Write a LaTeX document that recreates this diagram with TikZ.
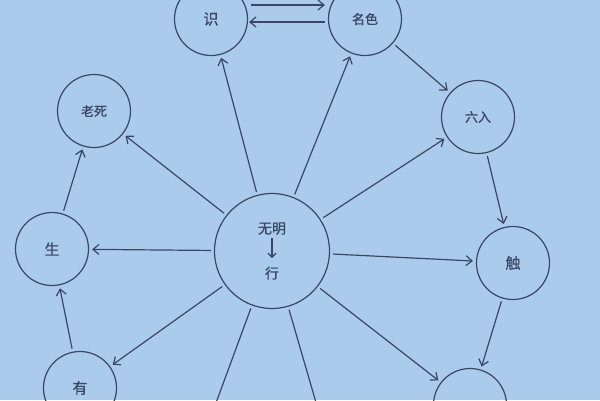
\documentclass[tikz,border=0pt]{standalone}
\usepackage{fontspec}
\newfontfamily\cjk[FakeBold=0.8]{Noto Sans CJK SC}
\usetikzlibrary{arrows,arrows.meta}
\definecolor{bg}{HTML}{ABCBED}
\definecolor{ink}{HTML}{3A4764}

\begin{document}
\begin{tikzpicture}[x=1pt,y=-1pt,>={Straight Barb[length=6pt,width=10pt]}]
	\tikzstyle{every node}=[circle, draw=ink, line width=1.2pt, minimum size=73pt, inner sep=0pt, text=ink, font=\cjk\fontsize{15}{18}\selectfont]
	\tikzstyle{small}=[font=\cjk\fontsize{13}{15}\selectfont]
	\tikzstyle{link}=[->, ink, line width=1.2pt, shorten >=3pt, shorten <=3pt]
	\fill[bg] (0,0) rectangle (600,400);
	\clip (0,0) rectangle (600,400);
	\draw (272,251) node (v0) [minimum size=115pt, align=center, font=\cjk\fontsize{14}{45}\selectfont] {无明\\行};
	\draw (211,19) node (v1) {识};
	\draw (365,19) node (v2) [small] {名色};
	\draw (478,117) node (v3) [small] {六入};
	\draw (513,263) node (v4) {触};
	\draw (470,405) node (v5) {};
	\draw (80,388) node (v6) {有};
	\draw (52,249) node (v7) {生};
	\draw (94,111) node (v8) [small] {老死};
	\coordinate (a1) at ([yshift=13pt]v0.center);
	\coordinate (a2) at ([yshift=-7pt]v0.center);
	\coordinate (b1) at (206,430);
	\coordinate (b2) at (324,430);
	\draw[->, ink, line width=1.2pt, >={Straight Barb[length=4pt,width=8pt]}] (a1) -- (a2);
	\draw[link] ([yshift=14pt]v1.east) -- ([yshift=14pt]v2.west);
	\draw[link, shorten >=1pt] ([yshift=-3pt]v2.west) -- ([yshift=-3pt]v1.east);
	\draw[link] (v2) -- (v3);
	\draw[link] (v3) -- (v4);
	\draw[link] (v4) -- (v5);
	\draw[link] (v6) -- (v7);
	\draw[link] (v7) -- (v8);
	\draw[link] (v0) -- (v1);
	\draw[link] (v0) -- (v2);
	\draw[link] (v0) -- (v3);
	\draw[link] (v0) -- (v4);
	\draw[link] (v0) -- (v5);
	\draw[link] (v0) -- (v6);
	\draw[link] (v0) -- (v7);
	\draw[link] (v0) -- (v8);
	\draw[link, -] (v0) -- (b1);
	\draw[link, -] (v0) -- (b2);
\end{tikzpicture}
\end{document}
